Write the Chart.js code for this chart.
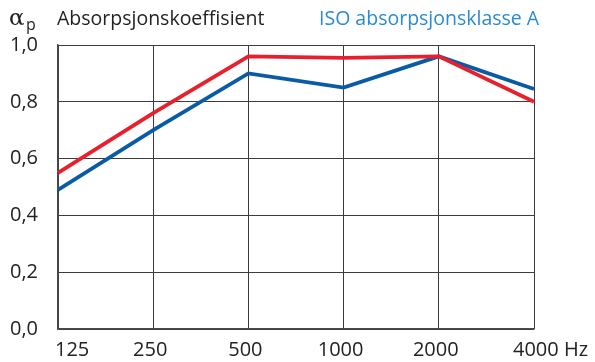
<!DOCTYPE html>
<html>
<head>
<meta charset="utf-8">
<script src="https://cdn.jsdelivr.net/npm/chart.js@4"></script>
<style>
  html, body { margin: 0; padding: 0; background: #fff; }
  #wrap { width: 595px; height: 362px; }
</style>
</head>
<body>
<div id="wrap"><canvas id="myChart" width="595" height="362"></canvas></div>
<script>
const frequencies = ["125", "250", "500", "1000", "2000", "4000"];
const xTickLabels = ["125", "250", "500", "1000", "2000", "4000 Hz"];
const productValues = [0.55, 0.76, 0.96, 0.955, 0.96, 0.80];
const isoClassA = [0.49, 0.70, 0.90, 0.85, 0.96, 0.845];
const yTicks = [0, 0.2, 0.4, 0.6, 0.8, 1.0];

const FONT = "'Open Sans', 'Noto Sans', sans-serif";
const gridColor = "#3c3c3c";

// title row and x labels drawn on the canvas after the chart
const textPlugin = {
  id: "texts",
  afterDraw(chart) {
    const c = chart.ctx;
    const x = chart.scales.x;
    c.save();
    c.fillStyle = "#222";
    c.textBaseline = "alphabetic";
    c.font = "23px 'DejaVu Serif', serif";
    c.fillText("α", 9, 25);
    c.font = "16px " + FONT;
    c.fillText("p", 26, 30);
    c.font = "19.5px " + FONT;
    c.fillText("Absorpsjonskoeffisient", 57, 25);
    c.fillStyle = "#2a8ad2";
    c.fillText("ISO absorpsjonsklasse A", 319, 25);

    c.fillStyle = "#222";
    c.font = "20px " + FONT;
    xTickLabels.forEach((lab, i) => {
      let px = x.getPixelForValue(i);
      if (i === 0) {
        c.textAlign = "left";
        px = px - 3;
      } else if (i === xTickLabels.length - 1) {
        c.textAlign = "left";
        px = px - 21;
      } else {
        c.textAlign = "center";
        px = px - 3;
      }
      c.fillText(lab, px, 356);
    });
    c.restore();
  },
};

const ctx = document.getElementById("myChart");
const myChart = new Chart(ctx, {
  type: "line",
  data: {
    labels: frequencies,
    datasets: [
      {
        label: "Absorpsjonskoeffisient",
        data: productValues,
        borderColor: "#e8202d",
        borderWidth: 3.8,
        pointRadius: 0,
        tension: 0,
        clip: false,
      },
      {
        label: "ISO absorpsjonsklasse A",
        data: isoClassA,
        borderColor: "#0a5ba6",
        borderWidth: 3.8,
        pointRadius: 0,
        tension: 0,
        clip: false,
      },
    ],
  },
  options: {
    responsive: false,
    animation: false,
    layout: { padding: { left: 0, right: 61, top: 45, bottom: 0 } },
    plugins: {
      legend: { display: false },
      tooltip: { enabled: false },
    },
    scales: {
      x: {
        type: "category",
        offset: false,
        grid: { color: gridColor, lineWidth: 1, drawTicks: false },
        border: { color: "#4a4a4a", width: 1.5 },
        ticks: { display: false },
        afterFit(scale) {
          scale.height = 33;
        },
      },
      y: {
        min: 0,
        max: 1,
        grid: { color: gridColor, lineWidth: 1, drawTicks: false },
        border: { color: "#4a4a4a", width: 1.5 },
        afterBuildTicks(scale) {
          scale.ticks = yTicks.map((v) => ({ value: v }));
        },
        afterFit(scale) {
          scale.width = 58;
        },
        ticks: {
          padding: 20,
          color: "#222",
          font: { family: FONT, size: 20 },
          callback: (v) => Number(v).toFixed(1).replace(".", ","),
        },
      },
    },
  },
  plugins: [textPlugin],
});
</script>
</body>
</html>
